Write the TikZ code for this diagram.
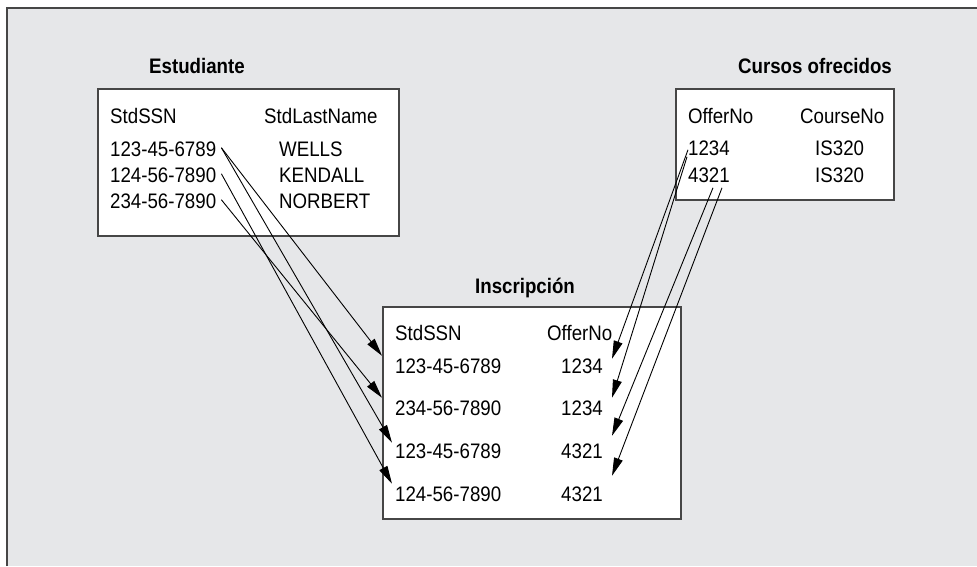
\documentclass[tikz,border=0pt]{standalone}
\usepackage{fontspec}
\setmainfont{Liberation Sans}[FakeStretch=0.89]
\usetikzlibrary{arrows.meta,calc}

\definecolor{panel}{RGB}{230,231,233}
\definecolor{edge}{RGB}{70,70,70}

\begin{document}
\begin{tikzpicture}[x=1pt,y=-1pt,
  cell/.style={inner sep=0pt, font=\fontsize{21}{25}\selectfont},
  heading/.style={inner sep=0pt, font=\fontsize{21}{25}\selectfont\bfseries},
  tablebox/.style={draw=edge, line width=1.5pt, fill=white, anchor=north west, inner sep=0pt},
  link/.style={line width=0.9pt, -{Triangle[length=18pt,width=9pt]}}
]
\useasboundingbox (0,0) rectangle (977,566);

% panel background with its upper and left rules
\fill[panel] (6.5,7.5) rectangle (977,566);
\draw[edge, line width=2pt] (6.5,566) -- (6.5,7.5) -- (977,7.5);

% table frames
\node[tablebox, minimum width=301pt, minimum height=147pt] (est) at (97,88) {};
\node[tablebox, minimum width=218pt, minimum height=111pt] (cur) at (675,88) {};
\node[tablebox, minimum width=298pt, minimum height=212pt] (ins) at (382,306) {};

% table titles
\node[heading, anchor=base] (estT) at (197,73) {Estudiante};
\node[heading, anchor=base] (curT) at (815,73) {Cursos ofrecidos};
\node[heading, anchor=base] (insT) at (525,293) {Inscripción};

% Estudiante rows
\node[cell, anchor=base west] (eh1) at (110,123) {StdSSN};
\node[cell, anchor=base west] (eh2) at (264,123) {StdLastName};
\node[cell, anchor=base west] (e1) at (110,156) {123-45-6789};
\node[cell, anchor=base west] (e2) at (110,182) {124-56-7890};
\node[cell, anchor=base west] (e3) at (110,208) {234-56-7890};
\node[cell, anchor=base west] (n1) at (279,156) {WELLS};
\node[cell, anchor=base west] (n2) at (279,182) {KENDALL};
\node[cell, anchor=base west] (n3) at (279,208) {NORBERT};

% Cursos ofrecidos rows
\node[cell, anchor=base west] (ch1) at (688,123) {OfferNo};
\node[cell, anchor=base west] (ch2) at (800,123) {CourseNo};
\node[cell, anchor=base west] (c1) at (688,155) {1234};
\node[cell, anchor=base west] (c2) at (688,182) {4321};
\node[cell, anchor=base west] (k1) at (815,155) {IS320};
\node[cell, anchor=base west] (k2) at (815,182) {IS320};

% Inscripción rows
\node[cell, anchor=base west] (ih1) at (395,340) {StdSSN};
\node[cell, anchor=base west] (ih2) at (547,340) {OfferNo};
\node[cell, anchor=base west] (i1) at (395,373) {123-45-6789};
\node[cell, anchor=base west] (i2) at (395,415) {234-56-7890};
\node[cell, anchor=base west] (i3) at (395,458) {123-45-6789};
\node[cell, anchor=base west] (i4) at (395,501) {124-56-7890};
\node[cell, anchor=base east] (o1) at (603,373) {1234};
\node[cell, anchor=base east] (o2) at (603,415) {1234};
\node[cell, anchor=base east] (o3) at (603,458) {4321};
\node[cell, anchor=base east] (o4) at (603,501) {4321};

% StdSSN references
\draw[link] ($(e1.east)+(5,-1)$) -- ($(i1.west)+(-13,-10)$);
\draw[link] ($(e1.east)+(5,-1)$) -- ($(i3.west)+(-3,-8)$);
\draw[link] ($(e2.east)+(5,-1)$) -- ($(i4.west)+(-3,-10)$);
\draw[link] ($(e3.east)+(5,-1)$) -- ($(i2.west)+(-13,-10)$);

% OfferNo references
\draw[link] ($(c1.west)+(0,2)$) -- ($(o1.east)+(9,-7)$);
\draw[link] ($(c1.west)+(-1,9)$) -- ($(o2.east)+(9,-10)$);
\draw[link] ($(c2.west)+(25,13)$) -- ($(o3.east)+(9,-15)$);
\draw[link] ($(c2.west)+(34,13)$) -- ($(o4.east)+(9,-18)$);
\end{tikzpicture}
\end{document}
